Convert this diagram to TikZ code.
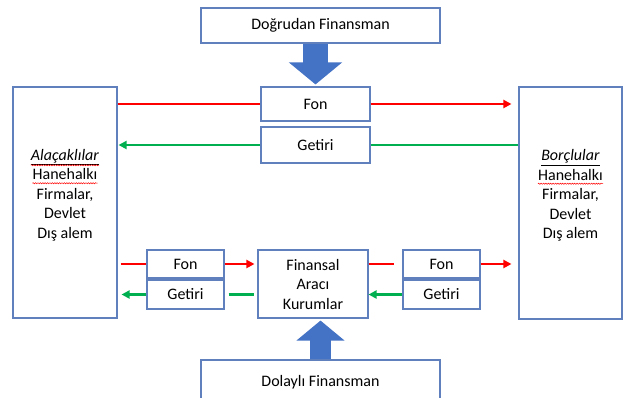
\documentclass[tikz,border=0pt]{standalone}
\usepackage{fontspec}
\setmainfont{Carlito}
\usetikzlibrary{arrows.meta,calc,decorations.pathmorphing}
\definecolor{boxline}{RGB}{95,128,188}
\definecolor{arrowblue}{RGB}{68,114,196}
\definecolor{redline}{RGB}{255,0,0}
\definecolor{greenline}{RGB}{0,176,80}
\newcommand\redsquig[2][3.5pt]{\tikz[baseline=(w.base)]{\node[inner sep=0pt] (w) {#2};
  \draw[red, line width=0.5pt, decorate, decoration={snake, amplitude=0.6pt, segment length=2.4pt}]
   ([yshift=-#1]w.base west) -- ([yshift=-#1]w.base east);}}
\begin{document}
\begin{tikzpicture}[x=1pt,y=-1pt,
 box/.style={draw=boxline, line width=1.1pt, fill=white, inner sep=0pt, align=center, font=\fontsize{16}{19.5}\selectfont},
 txt/.style={inner sep=0pt, align=center, font=\fontsize{16}{19.5}\selectfont},
 fund/.style={draw=redline, line width=2.6pt},
 ret/.style={draw=greenline, line width=2.6pt},
 tip/.style={-{Triangle[length=8pt,width=8pt]}},
 downarrow/.style={draw=arrowblue, line width=25pt, -{Triangle[length=22pt,width=52pt]}},
 uparrow/.style={draw=arrowblue, line width=21pt, -{Triangle[length=20pt,width=47pt]}},
]
\useasboundingbox (0,0) rectangle (623,397);
\fill[white] (0,0) rectangle (623,397);

% boxes
\node[box, minimum width=239pt, minimum height=35pt] (dog) at (320.5,25.5) {Doğrudan Finansman};
\node[box, minimum width=239pt, minimum height=44pt] (dol) at (320.5,382) {Dolaylı Finansman};
\node[box, minimum width=104pt, minimum height=231pt] (L) at (65,202.5) {};
\node[box, minimum width=103pt, minimum height=232pt] (R) at (570.5,203) {};
\node[txt] (Ltxt) at ([yshift=7.5pt]L.center) {\redsquig[5pt]{\underline{\textit{Alaçaklılar}}}\\\redsquig{Hanehalkı}\\Firmalar,\\Devlet\\Dış alem};
\node[txt] (Rtxt) at ([yshift=7.5pt]R.center) {\underline{\textit{Borçlular}}\\\redsquig{Hanehalkı}\\Firmalar,\\Devlet\\Dış alem};
\node[box, minimum width=109pt, minimum height=34pt] (fonT) at (315.5,104) {Fon};
\node[box, minimum width=109pt, minimum height=36pt] (getT) at (315.5,145) {Getiri};
\node[box, minimum width=77pt, minimum height=28pt] (fonL) at (185.5,264) {Fon};
\node[box, minimum width=77pt, minimum height=29pt] (getL) at (185.5,294.5) {Getiri};
\node[box, minimum width=110pt, minimum height=68pt] (fin) at (313,284) {Finansal\\Aracı\\Kurumlar};
\node[box, minimum width=77pt, minimum height=28pt] (fonR) at (441.5,264) {Fon};
\node[box, minimum width=77pt, minimum height=29pt] (getR) at (441.5,294.5) {Getiri};

% blue block arrows
\draw[downarrow, shorten >=2pt] (fonT.north |- dog.south) -- (fonT.north);
\draw[uparrow, shorten >=2pt] (dol.north) -- (dol.north |- fin.south);

% direct finance flows
\draw[fund] (L.east |- fonT.west) -- (fonT.west);
\draw[fund, tip, shorten >=7pt] (fonT.east) -- (R.west |- fonT.east);
\draw[ret] (R.west |- getT.east) -- (getT.east);
\draw[ret, tip, shorten >=1pt] (getT.west) -- (L.east |- getT.west);

% indirect finance flows
\draw[fund, shorten <=3pt] (L.east |- fonL.west) -- (fonL.west);
\draw[fund, tip, shorten >=3pt] (fonL.east) -- (fin.west |- fonL.east);
\draw[fund, shorten >=8pt] (fin.east |- fonR.west) -- (fonR.west);
\draw[fund, tip, shorten >=7pt] (fonR.east) -- (R.west |- fonR.east);
\draw[ret, tip, shorten >=4pt] (getL.west) -- (L.east |- getL.west);
\draw[ret, shorten <=4pt, shorten >=3pt] (getL.east) -- (fin.west |- getL.east);
\draw[ret, tip] (getR.west) -- (fin.east |- getR.west);
\end{tikzpicture}
\end{document}
